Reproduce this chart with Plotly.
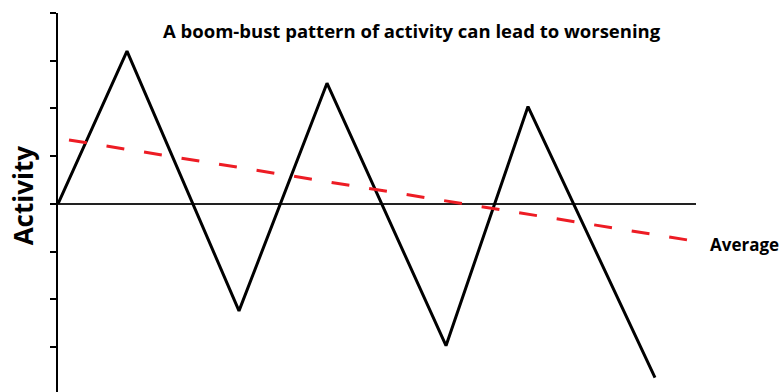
import plotly.graph_objects as go

# boom-bust activity over time (x in arbitrary time units)
time = [0, 69, 181, 269, 388, 470, 597]
activity = [0, 3.2, -2.24, 2.53, -2.97, 2.04, -3.64]

# linear trend of the average
avg_time = [11, 637]
avg_activity = [1.34, -0.78]

y_ticks = [-3, -2, -1, 0, 1, 2, 3, 4]

fig = go.Figure()

# baseline at zero
fig.add_trace(go.Scatter(x=[0, 638], y=[0, 0], mode="lines",
                         line=dict(color="#222222", width=2),
                         hoverinfo="skip", showlegend=False))

fig.add_trace(go.Scatter(x=time, y=activity, mode="lines",
                         line=dict(color="black", width=3),
                         showlegend=False))

fig.add_trace(go.Scatter(x=avg_time, y=avg_activity, mode="lines",
                         line=dict(color="#ed1c24", width=3, dash="18px,20px"),
                         showlegend=False))

font = "Open Sans, Lato, sans-serif"

fig.add_annotation(text="<b>A boom-bust pattern of activity can lead to worsening</b>",
                   xref="paper", yref="paper", x=0.555, y=1.0, xanchor="center", yanchor="top",
                   yshift=-3, showarrow=False, font=dict(family=font, size=18.5, color="black"))

fig.add_annotation(text="<b>Average</b>", xref="paper", yref="y", x=1.0, y=-0.84,
                   xanchor="left", yanchor="middle", xshift=12, showarrow=False,
                   font=dict(family=font, size=17, color="black"))

fig.add_annotation(text="<b>Activity</b>", xref="paper", yref="y", x=0, y=0.18,
                   xanchor="center", yanchor="middle", xshift=-35, textangle=-90,
                   showarrow=False, font=dict(family=font, size=26, color="black"))

fig.update_xaxes(range=[0, 638], visible=False, automargin=False)
fig.update_yaxes(range=[-3.94, 4], tickvals=y_ticks, showticklabels=False,
                 ticks="outside", ticklen=6, tickwidth=1.5, tickcolor="black",
                 showline=True, linecolor="black", linewidth=2,
                 showgrid=False, zeroline=False, automargin=False)

fig.update_layout(width=782, height=392, margin=dict(l=58, r=86, t=13, b=0),
                  plot_bgcolor="white", paper_bgcolor="white")

# drop the default 8px page margin so the figure fills the window
fig.write_html("out.html", config={"displayModeBar": False},
               post_script="document.body.style.margin = '0';")
